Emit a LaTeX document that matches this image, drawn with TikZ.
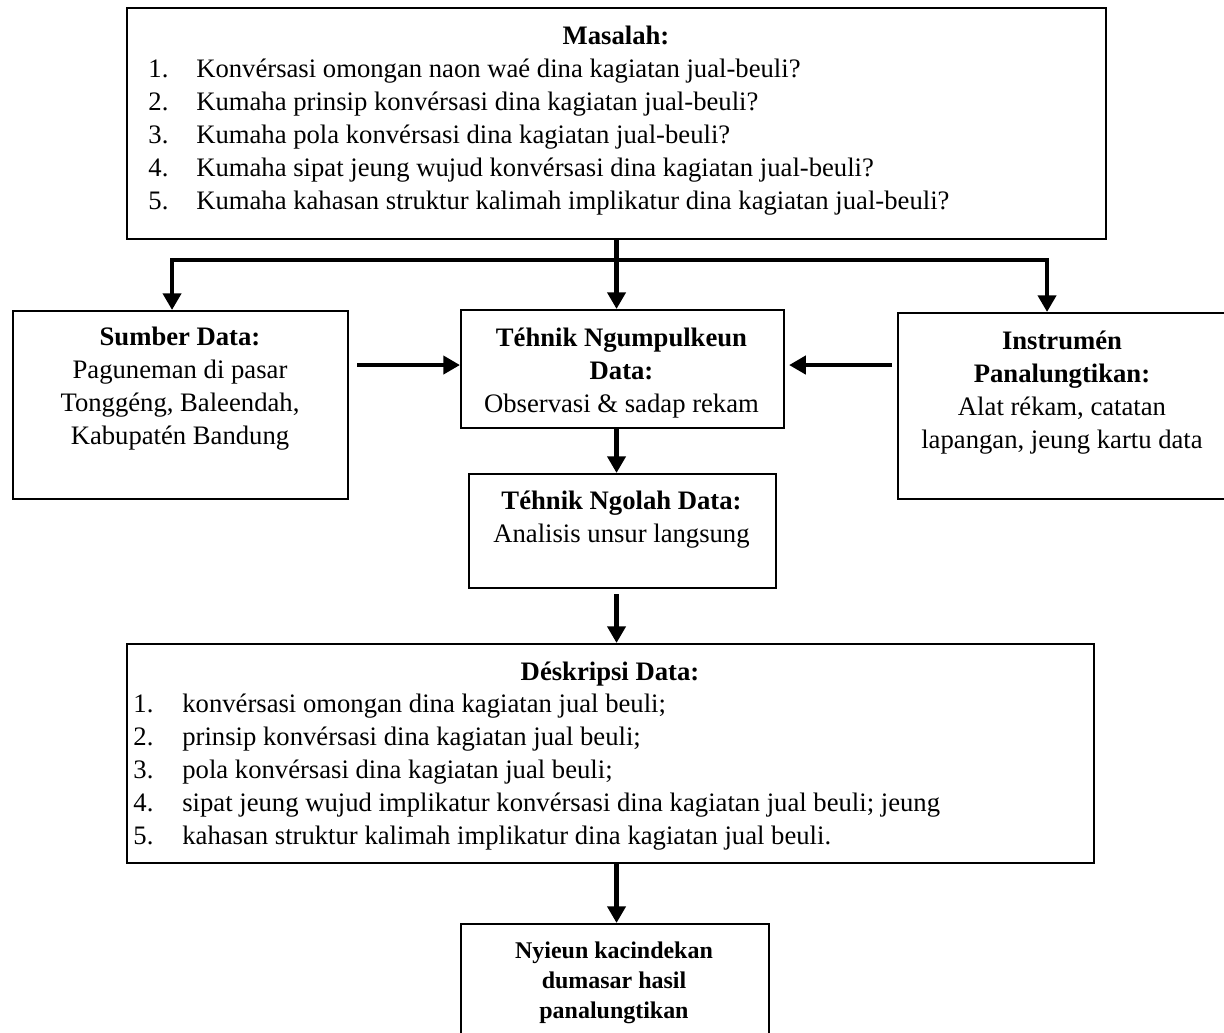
\documentclass[tikz,border=0pt]{standalone}
\usepackage{fontspec}
\setmainfont{Liberation Serif}
\usepackage{tikz}
\usetikzlibrary{positioning,arrows.meta}
\newcommand{\px}{0.48pt}
\newcommand{\normsize}{\fontsize{12.8}{15.84}\selectfont}
\newcommand{\panel}[5]{
\node (#1) [box, minimum width=#4*\px, minimum height=#5*\px] at (#2,#3) {};}
\tikzstyle{box}=[rectangle, draw=black, line width=1pt, inner sep=0pt, anchor=north west]
\tikzstyle{heading}=[font=\normsize\bfseries, inner sep=0pt, anchor=north]
\tikzstyle{body}=[align=center, inner sep=0pt, anchor=north]
\tikzstyle{items}=[align=left, inner sep=0pt, anchor=north west]
\tikzstyle{line}=[line width=2.3pt, -{Triangle[length=8pt,width=8.6pt]}]

\begin{document}
\begin{tikzpicture}[x=\px, y=-\px, font=\normsize]
\path[use as bounding box, clip] (0,0) rectangle (1224,1033);

\panel{masalah}{126}{7}{979}{231}
\panel{sumber}{12}{310}{335}{188}
\panel{ngumpul}{460}{309}{323}{118}
\panel{instrumen}{897}{312}{340}{186}
\panel{ngolah}{468}{473}{307}{114}
\panel{deskripsi}{126}{643}{967}{219}
\panel{nyieun}{460}{923}{308}{160}

% texts
\node (masalah-title) [heading] at (616,26) {Masalah:};
\node (masalah-list) [items] at (148,59) {%
\makebox[23pt][l]{1.}Konvérsasi omongan naon waé dina kagiatan jual-beuli?\\
\makebox[23pt][l]{2.}Kumaha prinsip konvérsasi dina kagiatan jual-beuli?\\
\makebox[23pt][l]{3.}Kumaha pola konvérsasi dina kagiatan jual-beuli?\\
\makebox[23pt][l]{4.}Kumaha sipat jeung wujud konvérsasi dina kagiatan jual-beuli?\\
\makebox[23pt][l]{5.}Kumaha kahasan struktur kalimah implikatur dina kagiatan jual-beuli?};
\node (sumber-text) [body] at (180,327) {\textbf{Sumber Data:}\\Paguneman di pasar\\Tonggéng, Baleendah,\\Kabupatén Bandung};
\node (ngumpul-text) [body] at (621.5,328) {\textbf{Téhnik Ngumpulkeun}\\\textbf{Data:}\\Observasi \& sadap rekam};
\node (instrumen-text) [body] at (1062,331) {\textbf{Instrumén}\\\textbf{Panalungtikan:}\\Alat rékam, catatan\\lapangan, jeung kartu data};
\node (ngolah-text) [body] at (621.5,491) {\textbf{Téhnik Ngolah Data:}\\Analisis unsur langsung};
\node (deskripsi-title) [heading] at (610,662) {Déskripsi Data:};
\node (deskripsi-list) [items] at (133,694) {%
\makebox[23.5pt][l]{1.}konvérsasi omongan dina kagiatan jual beuli;\\
\makebox[23.5pt][l]{2.}prinsip konvérsasi dina kagiatan jual beuli;\\
\makebox[23.5pt][l]{3.}pola konvérsasi dina kagiatan jual beuli;\\
\makebox[23.5pt][l]{4.}sipat jeung wujud implikatur konvérsasi dina kagiatan jual beuli; jeung\\
\makebox[23.5pt][l]{5.}kahasan struktur kalimah implikatur dina kagiatan jual beuli.};
\node (nyieun-text) [body, font=\fontsize{11.5}{14.4}\selectfont\bfseries] at (614,941) {Nyieun kacindekan\\dumasar hasil\\panalungtikan};

% draw lines
\coordinate (split) at ([yshift=-20*\px]masalah.south);
\draw[line] (masalah.south) -- (masalah.south |- ngumpul.north);
\draw[line] (split) -| ([xshift=-8.5*\px]sumber.north);
\draw[line] (split) -| ([xshift=-21*\px]instrumen.north);
\draw[line] (sumber.east |- ngumpul.west) ++(8,-4) -- ([yshift=4*\px]ngumpul.west);
\draw[line] (instrumen.west |- ngumpul.east) ++(-5,-4) -- ([xshift=4*\px, yshift=4*\px]ngumpul.east);
\draw[line] (ngumpul.south -| masalah.south) -- (ngolah.north -| masalah.south);
\draw[line] (ngolah.south -| masalah.south) ++(0,5) -- (deskripsi.north -| masalah.south);
\draw[line] (deskripsi.south -| masalah.south) -- (nyieun.north -| masalah.south);

\end{tikzpicture}
\end{document}
